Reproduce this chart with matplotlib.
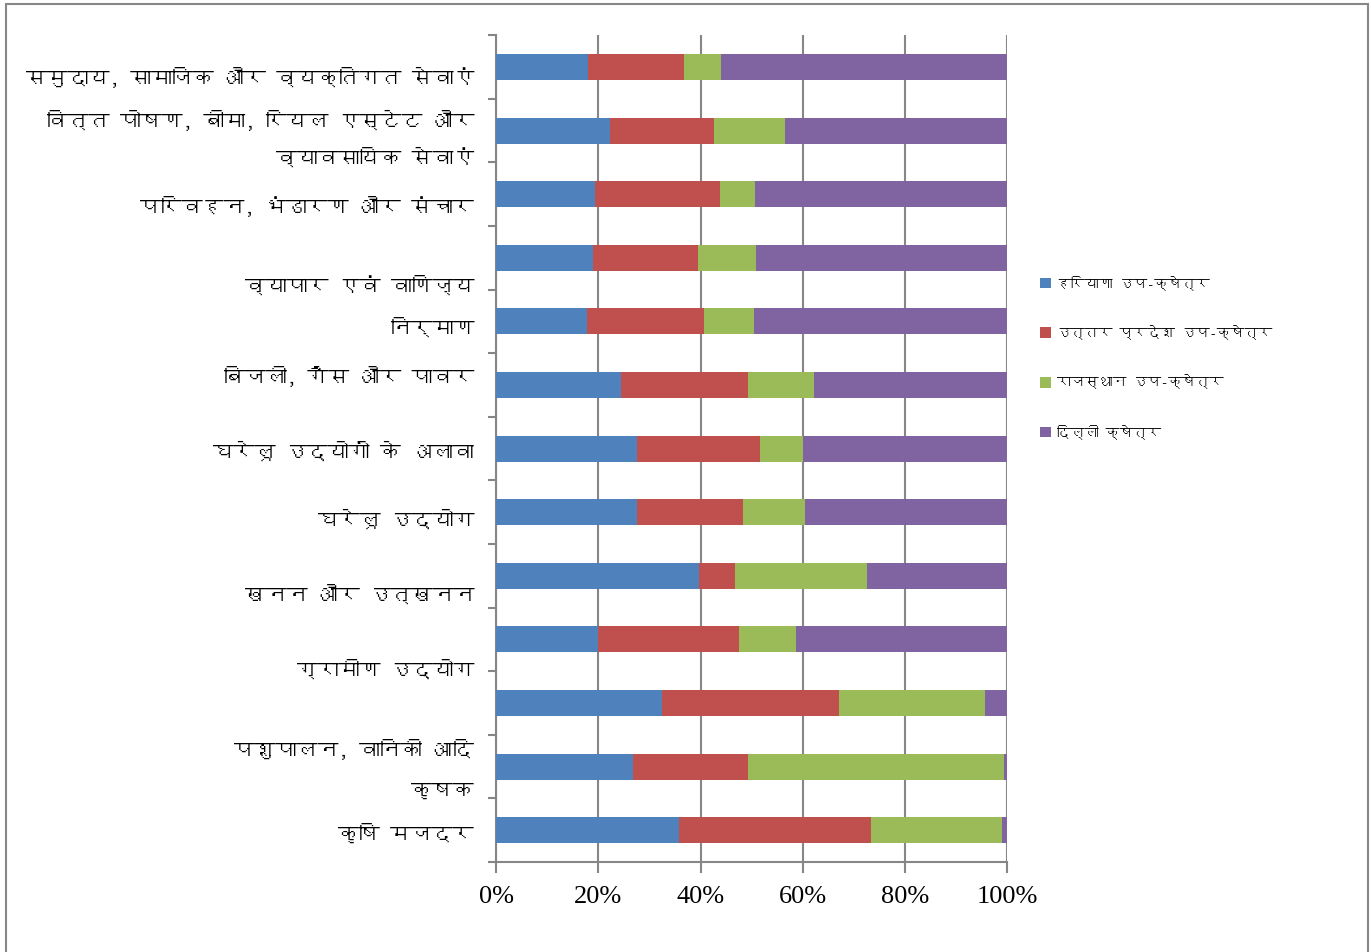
import numpy as np
import matplotlib
matplotlib.use('Agg')
import matplotlib.pyplot as plt
import matplotlib.transforms as mtransforms
from matplotlib import font_manager
from matplotlib.ft2font import FT2Font
from matplotlib.patches import Rectangle

# categories, top to bottom
categories = [
    'समुदाय, सामाजिक और व्यक्तिगत सेवाएं',
    'वित्त पोषण, बीमा, रियल एस्टेट और\nव्यावसायिक सेवाएं',
    'परिवहन, भंडारण और संचार',
    'व्यापार एवं वाणिज्य',
    'निर्माण',
    'बिजली, गैस और पावर',
    'घरेलू उद्योगों के अलावा',
    'घरेलू उद्योग',
    'खनन और उत्खनन',
    'ग्रामीण उद्योग',
    'पशुपालन, वानिकी आदि',
    'कृषक',
    'कृषि मजदर',
]
series_names = ['हरियाणा उप-क्षेत्र', 'उत्तर प्रदेश उप-क्षेत्र',
                'राजस्थान उप-क्षेत्र', 'दिल्ली क्षेत्र']

# shares in percent
haryana   = [17.9, 22.3, 19.3, 18.9, 17.7, 24.4, 27.6, 27.5, 39.7, 19.9, 32.5, 26.7, 35.8]
up        = [18.8, 20.4, 24.5, 20.5, 23.0, 24.8, 24.0, 20.8,  7.1, 27.6, 34.6, 22.5, 37.5]
rajasthan = [ 7.3, 13.8,  6.8, 11.4,  9.7, 13.0,  8.4, 12.1, 25.8, 11.2, 28.6, 50.3, 25.8]
delhi     = [56.0, 43.5, 49.4, 49.2, 49.6, 37.8, 40.0, 39.6, 27.4, 41.3,  4.3,  0.5,  0.9]

colors = ['#4F81BD', '#C0504D', '#9BBB59', '#8064A2']

# the category labels in the original sit a bit off their bars (pixels, down)
label_shift = [9, -2, 11, 26, 5, -10, 2, 6, 17, 29, 45, 23, 2]


# find an installed font that has Devanagari glyphs
def find_font(ch):
    for f in font_manager.fontManager.ttflist:
        try:
            if ord(ch) in FT2Font(f.fname).get_charmap():
                return f.name
        except Exception:
            pass
    return None

hindi = find_font('क')
fam = [hindi, 'DejaVu Sans'] if hindi else ['DejaVu Sans']

fig = plt.figure(figsize=(13.71, 9.52), dpi=100)
ax = fig.add_axes([0.362, 0.0945, 0.3725, 0.8685])

data = np.array([haryana, up, rajasthan, delhi])
totals = data.sum(axis=0)
shares = data / totals
y = np.arange(len(categories))
left = np.zeros(len(categories))
for vals, name, c in zip(shares, series_names, colors):
    ax.barh(y, vals, left=left, height=0.41, color=c, label=name, zorder=3)
    left += vals

ax.set_xlim(0, 1)
ax.set_ylim(len(categories) - 0.5, -0.5)
ax.set_xticks(np.linspace(0, 1, 6))
ax.set_xticklabels(['0%', '20%', '40%', '60%', '80%', '100%'],
                   family='Liberation Serif', fontsize=19)
ax.xaxis.grid(True, color='#868686', linewidth=1.5, zorder=0)

ax.set_yticks(y)
ax.set_yticklabels(categories, family=fam, fontsize=15, linespacing=2.0)
ax.set_yticks(np.arange(-0.5, len(categories)), minor=True)
ax.tick_params(axis='y', which='major', length=0, pad=16)
ax.tick_params(axis='y', which='minor', length=6, width=1.5, color='#868686')
ax.tick_params(axis='x', length=8, width=1.5, color='#868686', pad=9)

for lab, dy in zip(ax.get_yticklabels(), label_shift):
    lab.set_transform(lab.get_transform() +
                      mtransforms.ScaledTranslation(0, -dy / 100, fig.dpi_scale_trans))

for s in ['top', 'right']:
    ax.spines[s].set_visible(False)
for s in ['left', 'bottom']:
    ax.spines[s].set_color('#868686')
    ax.spines[s].set_linewidth(1.5)

leg = ax.legend(loc='upper left', bbox_to_anchor=(1.065, 0.71), frameon=False,
                prop={'family': fam, 'size': 10}, handlelength=0.8, handleheight=0.8,
                handletextpad=0.4, labelspacing=2.5, borderpad=0, borderaxespad=0)

fig.patches.append(Rectangle((6 / 1371, -0.02), 1362 / 1371, 1.0 - 4 / 952 + 0.02,
                             transform=fig.transFigure, fill=False,
                             edgecolor='#878787', linewidth=1.5))

fig.savefig('out.png', dpi=100, facecolor='white')
